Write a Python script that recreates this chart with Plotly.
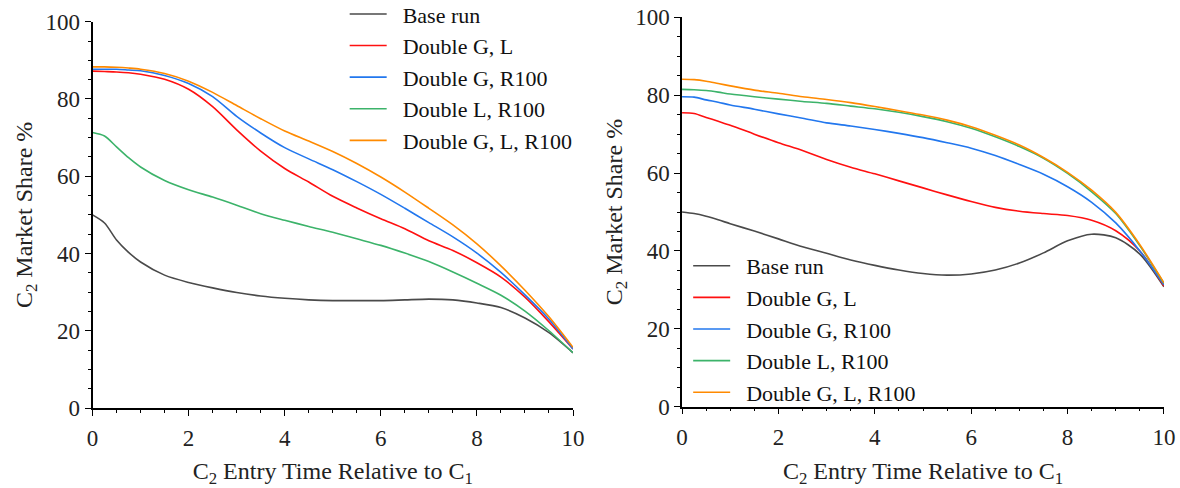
import plotly.graph_objects as go

x = [0, 0.25, 0.5, 0.75, 1, 1.5, 2, 2.5, 3, 3.5, 4, 4.5, 5, 5.5, 6, 6.5, 7, 7.5, 8, 8.5, 9, 9.5, 10]

names = ["Base run", "Double G, L", "Double G, R100", "Double L, R100", "Double G, L, R100"]
colors = ["#4a4a4a", "#ff1010", "#2277ee", "#3cb36a", "#ff8a00"]

# Left panel
left_base = [50.0, 47.9, 43.5, 40.3, 37.8, 34.4, 32.5, 31.1, 29.9, 29.0, 28.4, 28.0, 27.8, 27.8, 27.8, 28.0, 28.2, 28.0, 27.2, 26.0, 23.3, 19.5, 14.3]
left_gl = [87.2, 87.1, 87.0, 86.8, 86.4, 85.1, 82.5, 78.0, 72.0, 66.5, 62.0, 58.5, 54.8, 51.8, 49.0, 46.4, 43.3, 40.8, 37.6, 33.9, 28.7, 22.3, 15.3]
left_gr = [87.7, 87.7, 87.7, 87.5, 87.3, 86.1, 84.0, 80.6, 75.5, 71.2, 67.4, 64.5, 61.7, 58.6, 55.3, 51.7, 48.0, 44.3, 40.1, 35.1, 29.3, 23.0, 15.3]
left_lr = [71.3, 70.4, 67.6, 64.8, 62.4, 58.9, 56.5, 54.6, 52.5, 50.3, 48.6, 47.0, 45.5, 43.8, 42.1, 40.1, 37.9, 35.2, 32.3, 29.2, 25.1, 20.0, 14.3]
left_glr = [88.3, 88.3, 88.2, 88.0, 87.7, 86.6, 84.6, 81.7, 78.3, 74.9, 71.7, 69.1, 66.4, 63.3, 59.8, 55.9, 51.7, 47.4, 42.5, 36.8, 30.5, 23.6, 15.7]

# Right panel
right_base = [50.0, 49.6, 48.9, 48.0, 47.0, 45.1, 43.1, 41.1, 39.4, 37.7, 36.3, 35.1, 34.2, 33.8, 34.1, 35.1, 36.9, 39.5, 42.6, 44.3, 43.4, 39.2, 30.8]
right_gl = [75.5, 75.3, 74.3, 73.3, 72.3, 70.0, 67.8, 65.8, 63.5, 61.5, 59.8, 58.0, 56.2, 54.4, 52.7, 51.2, 50.2, 49.6, 49.1, 47.9, 45.2, 40.0, 31.0]
right_gr = [79.6, 79.5, 78.8, 78.2, 77.5, 76.4, 75.2, 74.1, 72.9, 72.1, 71.2, 70.2, 69.1, 67.8, 66.4, 64.5, 62.2, 59.7, 56.5, 52.5, 47.2, 40.0, 31.3]
right_lr = [81.5, 81.4, 81.2, 80.8, 80.3, 79.6, 79.0, 78.4, 77.9, 77.2, 76.5, 75.6, 74.5, 73.2, 71.5, 69.3, 66.8, 63.8, 59.9, 55.2, 49.6, 41.3, 31.7]
right_glr = [84.1, 84.0, 83.6, 83.0, 82.4, 81.3, 80.5, 79.6, 78.9, 78.1, 77.1, 76.0, 74.9, 73.6, 71.9, 69.7, 67.2, 64.0, 60.2, 55.6, 49.9, 41.6, 31.8]

left_series = [left_base, left_gl, left_gr, left_lr, left_glr]
right_series = [right_base, right_gl, right_gr, right_lr, right_glr]

x_ticks = [0, 2, 4, 6, 8, 10]
y_ticks = [0, 20, 40, 60, 80, 100]

FONT = "Liberation Serif, DejaVu Serif, serif"
PAD = "\u00a0\u00a0"

fig = go.Figure()
for name, col, ys in zip(names, colors, left_series):
    fig.add_trace(go.Scatter(x=x, y=ys, mode="lines", name=PAD + name,
                             line=dict(color=col, width=1.6, shape="spline", smoothing=0.8),
                             xaxis="x", yaxis="y", legend="legend"))
for name, col, ys in zip(names, colors, right_series):
    fig.add_trace(go.Scatter(x=x, y=ys, mode="lines", name=PAD + name,
                             line=dict(color=col, width=1.6, shape="spline", smoothing=0.8),
                             xaxis="x2", yaxis="y2", legend="legend2"))

axis_common = dict(
    showline=True, linecolor="black", linewidth=1.6, mirror=False,
    ticks="outside", ticklen=6, tickwidth=1.4, tickcolor="black",
    minor=dict(ticks="outside", ticklen=3, tickwidth=1.4, tickcolor="black", showgrid=False),
    showgrid=False, zeroline=False, automargin=False,
    tickfont=dict(family=FONT, size=23, color="#222"),
)

xtitle = "C<sub>2</sub> Entry Time Relative to C<sub>1</sub>"
ytitle = "C<sub>2</sub> Market Share %"
TFONT = dict(family=FONT, size=24, color="#222")

fig.update_layout(
    width=1180, height=488,
    margin=dict(l=0, r=0, t=0, b=0, autoexpand=False),
    paper_bgcolor="white", plot_bgcolor="white",
    font=dict(family=FONT, size=21, color="#222"),
    xaxis=dict(domain=[0.0784, 0.4856], range=[0, 10], tickvals=x_ticks, anchor="y",
               title=dict(text=xtitle, font=TFONT, standoff=16), ticklabelstandoff=3, **axis_common),
    yaxis=dict(domain=[0.1639, 0.9555], range=[0, 100], tickvals=y_ticks, anchor="x",
               title=dict(text=ytitle, font=TFONT, standoff=6), **axis_common),
    xaxis2=dict(domain=[0.5780, 0.9864], range=[0, 10], tickvals=x_ticks, anchor="y2",
                title=dict(text=xtitle, font=TFONT, standoff=16), ticklabelstandoff=3, **axis_common),
    yaxis2=dict(domain=[0.1666, 0.9645], range=[0, 100], tickvals=y_ticks, anchor="x2",
                title=dict(text=ytitle, font=TFONT, standoff=6), **axis_common),
    legend=dict(x=0.2921, y=1.014, xanchor="left", yanchor="top", bgcolor="rgba(0,0,0,0)",
                font=dict(family=FONT, size=22, color="#111"), itemwidth=37, tracegroupgap=0),
    legend2=dict(x=0.5832, y=0.498, xanchor="left", yanchor="top", bgcolor="rgba(0,0,0,0)",
                 font=dict(family=FONT, size=22, color="#111"), itemwidth=37, tracegroupgap=0),
)

fig.write_html("out.html", config={"displayModeBar": False},
               post_script="document.body.style.margin='0';")
